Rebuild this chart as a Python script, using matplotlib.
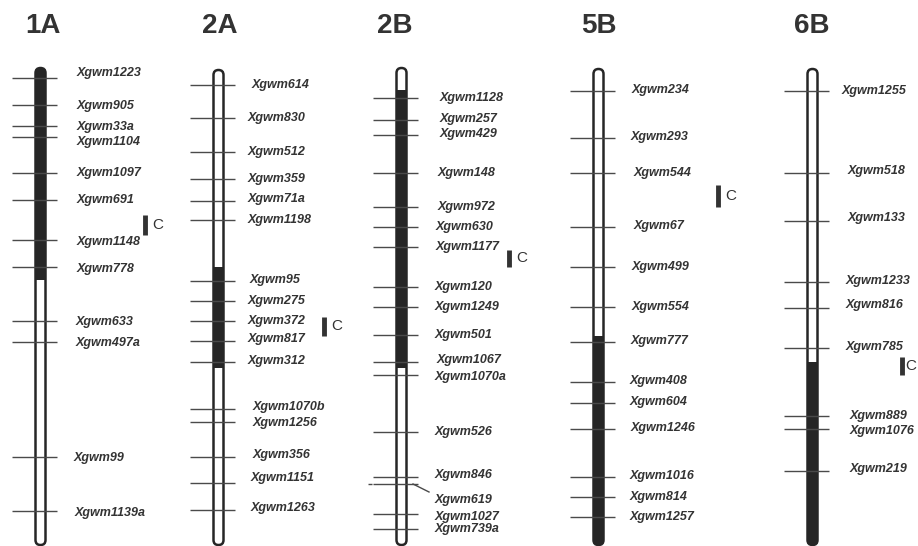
import numpy as np
import matplotlib
matplotlib.use("Agg")
from matplotlib import pyplot as plt
from matplotlib.patches import FancyBboxPatch, Rectangle


# chromosome names, centre x, top / bottom and dark (C) segment, in pixels
chromosomes = ["1A", "2A", "2B", "5B", "6B"]
centres = [40.5, 218.5, 401.5, 598.5, 812.5]
tops = [68, 70, 68, 69, 69]
bottoms = [545, 545, 545, 545, 545]
dark_start = [68, 267, 90, 336, 362]
dark_end = [280, 368, 368, 545, 545]
title_x = [43, 220, 395, 599, 812]

markers_1a = ["1223", "905", "33a", "1104", "1097", "691", "1148", "778",
              "633", "497a", "99", "1139a"]
ticks_1a = [78, 105, 126, 137, 173, 200, 240, 267, 321, 342, 457, 511]
label_y_1a = [73, 106, 127, 142, 173, 200, 242, 269, 322, 343, 458, 513]
label_x_1a = [77, 77, 77, 77, 77, 77, 77, 77, 76, 76, 74, 75]

markers_2a = ["614", "830", "512", "359", "71a", "1198", "95", "275", "372",
              "817", "312", "1070b", "1256", "356", "1151", "1263"]
ticks_2a = [85, 118, 152, 179, 201, 220, 281, 301, 321, 341, 362, 409, 422,
            457, 483, 510]
label_y_2a = [85, 118, 152, 179, 199, 220, 280, 301, 321, 339, 361, 407, 423,
              455, 478, 508]
label_x_2a = [252, 248, 248, 248, 248, 248, 250, 248, 248, 248, 248, 253, 253,
              253, 251, 251]

markers_2b = ["1128", "257", "429", "148", "972", "630", "1177", "120", "1249",
              "501", "1067", "1070a", "526", "846", "619", "1027", "739a"]
ticks_2b = [98, 120, 135, 173, 207, 227, 247, 287, 307, 335, 362, 375, 432,
            477, 484, 514, 529]
label_y_2b = [98, 119, 134, 173, 207, 227, 247, 287, 307, 335, 360, 377, 432,
              475, 500, 517, 529]
label_x_2b = [440, 440, 440, 438, 438, 436, 436, 435, 435, 435, 437, 435, 435,
              435, 435, 435, 435]

markers_5b = ["234", "293", "544", "67", "499", "554", "777", "408", "604",
              "1246", "1016", "814", "1257"]
ticks_5b = [91, 138, 173, 227, 267, 307, 342, 382, 403, 429, 477, 497, 517]
label_y_5b = [90, 137, 173, 226, 267, 307, 341, 381, 402, 428, 476, 497, 517]
label_x_5b = [632, 631, 634, 634, 632, 632, 631, 630, 630, 631, 630, 630, 630]

markers_6b = ["1255", "518", "133", "1233", "816", "785", "889", "1076", "219"]
ticks_6b = [91, 173, 221, 282, 308, 348, 416, 429, 471]
label_y_6b = [91, 171, 218, 281, 305, 347, 416, 431, 469]
label_x_6b = [842, 848, 848, 846, 846, 846, 850, 850, 850]

markers = [markers_1a, markers_2a, markers_2b, markers_5b, markers_6b]
ticks = [ticks_1a, ticks_2a, ticks_2b, ticks_5b, ticks_6b]
label_y = [label_y_1a, label_y_2a, label_y_2b, label_y_5b, label_y_6b]
label_x = [label_x_1a, label_x_2a, label_x_2b, label_x_5b, label_x_6b]

# "C" brackets: x, y start, y end, gap to the letter
c_x = [145, 324, 509, 718, 902]
c_y0 = [215, 317, 250, 185, 357]
c_y1 = [235, 336, 267, 207, 375]
c_dx = [7, 7, 7, 7, 3]

WIDTH = 10.0
DARK = "#262626"
GRAY = "#4a4a4a"
TEXT = "#333333"

plt.rcParams["font.family"] = ["Liberation Sans", "DejaVu Sans"]

fig = plt.figure(figsize=(9.18, 5.46), dpi=100)
ax = fig.add_axes([0, 0, 1, 1])
ax.set_xlim(0, 918)
ax.set_ylim(546, 0)
ax.axis("off")

for i, name in enumerate(chromosomes):
    cx = centres[i]
    x0 = cx - WIDTH / 2

    # outline of the chromosome
    body = FancyBboxPatch(
        (x0, tops[i]), WIDTH, bottoms[i] - tops[i],
        boxstyle=f"round,pad=0,rounding_size={WIDTH / 2}",
        facecolor="white", edgecolor=DARK, linewidth=1.8, zorder=2)
    ax.add_patch(body)

    # dark segment, clipped to the outline
    dark = Rectangle((x0 - 2, dark_start[i]), WIDTH + 4,
                     dark_end[i] - dark_start[i],
                     facecolor=DARK, edgecolor="none", zorder=3)
    ax.add_patch(dark)
    dark.set_clip_path(body)

    # marker ticks
    ax.hlines(ticks[i], cx - 29, cx + 16, color=GRAY, linewidth=1.0,
              zorder=4)

    for m, ty, tx in zip(markers[i], label_y[i], label_x[i]):
        ax.text(tx, ty, "Xgwm" + m, fontsize=9.0, style="italic",
                fontweight="bold", color=TEXT, ha="left", va="center")

    ax.text(title_x[i], 26, name, fontsize=20, fontweight="bold",
            color=TEXT, ha="center", va="center")

    ax.vlines(c_x[i], c_y0[i], c_y1[i], color="#333333", linewidth=3.5)
    ax.text(c_x[i] + c_dx[i], (c_y0[i] + c_y1[i]) / 2, "C", fontsize=11,
            color=TEXT, ha="left", va="center")

# leader line for Xgwm619 on 2B, and its longer tick
ax.plot([413, 429], [484, 492], color=GRAY, linewidth=1.0)
ax.hlines([484], 368, 372, color=GRAY, linewidth=1.0)

fig.savefig("out.png", dpi=100)
